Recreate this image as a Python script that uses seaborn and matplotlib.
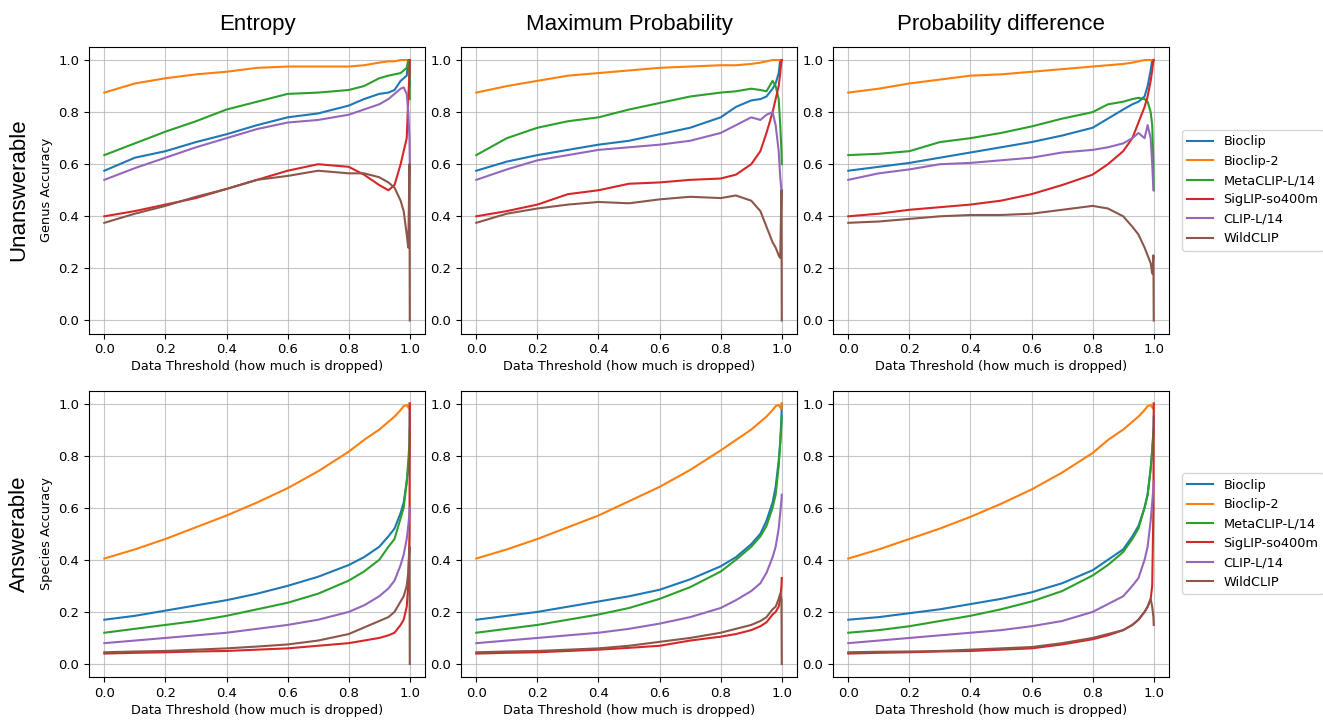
import numpy as np
import pandas as pd
import matplotlib
matplotlib.use('Agg')
import matplotlib.pyplot as plt
import seaborn as sns

# Values (approximate)
models = ['Bioclip', 'Bioclip-2', 'MetaCLIP-L/14', 'SigLIP-so400m', 'CLIP-L/14', 'WildCLIP']
metrics = ['Entropy', 'Maximum Probability', 'Probability difference']
rows = ['Unanswerable', 'Answerable']
ylabels = ['Genus Accuracy', 'Species Accuracy']

thresholds = [0.0, 0.1, 0.2, 0.3, 0.4, 0.5, 0.6, 0.7, 0.8, 0.85, 0.9, 0.93, 0.95,
              0.97, 0.98, 0.99, 0.995, 0.999, 1.0]

# Unanswerable -> Genus accuracy
unans_entropy = {
    'Bioclip':       [0.575, 0.625, 0.65, 0.685, 0.715, 0.75, 0.78, 0.795, 0.825, 0.85, 0.87, 0.875, 0.885, 0.92, 0.93, 0.94, 1.0, 1.0, 0.90],
    'Bioclip-2':     [0.875, 0.91, 0.93, 0.945, 0.955, 0.97, 0.975, 0.975, 0.975, 0.98, 0.99, 0.995, 0.995, 1.0, 1.0, 1.0, 1.0, 1.0, 1.0],
    'MetaCLIP-L/14': [0.635, 0.68, 0.725, 0.765, 0.81, 0.84, 0.87, 0.875, 0.885, 0.90, 0.93, 0.94, 0.945, 0.95, 0.96, 0.97, 1.0, 0.95, 0.85],
    'SigLIP-so400m': [0.40, 0.42, 0.445, 0.47, 0.505, 0.54, 0.575, 0.60, 0.59, 0.56, 0.52, 0.50, 0.52, 0.60, 0.65, 0.70, 0.85, 0.95, 1.0],
    'CLIP-L/14':     [0.54, 0.585, 0.625, 0.665, 0.70, 0.735, 0.76, 0.77, 0.79, 0.81, 0.83, 0.85, 0.87, 0.89, 0.895, 0.87, 0.80, 0.70, 0.60],
    'WildCLIP':      [0.375, 0.41, 0.44, 0.475, 0.505, 0.54, 0.555, 0.575, 0.565, 0.565, 0.55, 0.53, 0.51, 0.46, 0.42, 0.33, 0.28, 0.60, 0.0],
}
unans_maxprob = {
    'Bioclip':       [0.575, 0.61, 0.635, 0.655, 0.675, 0.69, 0.715, 0.74, 0.78, 0.82, 0.845, 0.85, 0.86, 0.89, 0.91, 0.95, 1.0, 1.0, 1.0],
    'Bioclip-2':     [0.875, 0.90, 0.92, 0.94, 0.95, 0.96, 0.97, 0.975, 0.98, 0.98, 0.985, 0.99, 0.995, 1.0, 1.0, 1.0, 1.0, 1.0, 1.0],
    'MetaCLIP-L/14': [0.635, 0.70, 0.74, 0.765, 0.78, 0.81, 0.835, 0.86, 0.875, 0.88, 0.89, 0.885, 0.88, 0.92, 0.90, 0.85, 0.75, 0.65, 0.60],
    'SigLIP-so400m': [0.40, 0.42, 0.445, 0.485, 0.50, 0.525, 0.53, 0.54, 0.545, 0.56, 0.60, 0.65, 0.72, 0.80, 0.85, 0.90, 0.95, 1.0, 1.0],
    'CLIP-L/14':     [0.54, 0.58, 0.615, 0.635, 0.655, 0.665, 0.675, 0.69, 0.72, 0.75, 0.78, 0.77, 0.79, 0.80, 0.75, 0.65, 0.55, 0.50, 0.50],
    'WildCLIP':      [0.375, 0.41, 0.43, 0.445, 0.455, 0.45, 0.465, 0.475, 0.47, 0.48, 0.46, 0.42, 0.36, 0.30, 0.28, 0.25, 0.24, 0.50, 0.0],
}
unans_probdiff = {
    'Bioclip':       [0.575, 0.59, 0.605, 0.625, 0.645, 0.665, 0.685, 0.71, 0.74, 0.775, 0.81, 0.83, 0.84, 0.86, 0.90, 0.96, 1.0, 1.0, 1.0],
    'Bioclip-2':     [0.875, 0.89, 0.91, 0.925, 0.94, 0.945, 0.955, 0.965, 0.975, 0.98, 0.985, 0.99, 0.995, 1.0, 1.0, 1.0, 1.0, 1.0, 1.0],
    'MetaCLIP-L/14': [0.635, 0.64, 0.65, 0.685, 0.70, 0.72, 0.745, 0.775, 0.80, 0.83, 0.84, 0.85, 0.855, 0.85, 0.84, 0.80, 0.75, 0.60, 0.50],
    'SigLIP-so400m': [0.40, 0.41, 0.425, 0.435, 0.445, 0.46, 0.485, 0.52, 0.56, 0.60, 0.65, 0.70, 0.76, 0.82, 0.86, 0.92, 0.96, 1.0, 1.0],
    'CLIP-L/14':     [0.54, 0.565, 0.58, 0.60, 0.605, 0.615, 0.625, 0.645, 0.655, 0.665, 0.68, 0.70, 0.72, 0.70, 0.75, 0.70, 0.60, 0.50, 0.50],
    'WildCLIP':      [0.375, 0.38, 0.39, 0.40, 0.405, 0.405, 0.41, 0.425, 0.44, 0.43, 0.40, 0.36, 0.33, 0.28, 0.25, 0.22, 0.18, 0.25, 0.0],
}

# Answerable -> Species accuracy
ans_entropy = {
    'Bioclip':       [0.17, 0.185, 0.205, 0.225, 0.245, 0.27, 0.30, 0.335, 0.38, 0.41, 0.45, 0.49, 0.52, 0.58, 0.62, 0.70, 0.75, 0.80, 1.0],
    'Bioclip-2':     [0.405, 0.44, 0.48, 0.525, 0.57, 0.62, 0.675, 0.74, 0.815, 0.86, 0.90, 0.93, 0.95, 0.975, 0.99, 0.995, 0.985, 0.98, 1.0],
    'MetaCLIP-L/14': [0.12, 0.135, 0.15, 0.165, 0.185, 0.21, 0.235, 0.27, 0.32, 0.355, 0.40, 0.45, 0.48, 0.56, 0.60, 0.70, 0.78, 0.85, 0.90],
    'SigLIP-so400m': [0.04, 0.043, 0.045, 0.048, 0.05, 0.055, 0.06, 0.07, 0.08, 0.09, 0.10, 0.11, 0.12, 0.15, 0.17, 0.22, 0.30, 0.50, 1.0],
    'CLIP-L/14':     [0.08, 0.09, 0.10, 0.11, 0.12, 0.135, 0.15, 0.17, 0.20, 0.225, 0.26, 0.29, 0.32, 0.38, 0.42, 0.48, 0.53, 0.58, 0.60],
    'WildCLIP':      [0.045, 0.048, 0.05, 0.055, 0.06, 0.067, 0.075, 0.09, 0.115, 0.14, 0.165, 0.18, 0.20, 0.24, 0.26, 0.30, 0.35, 0.45, 0.0],
}
ans_maxprob = {
    'Bioclip':       [0.17, 0.185, 0.20, 0.22, 0.24, 0.26, 0.285, 0.325, 0.375, 0.41, 0.46, 0.50, 0.55, 0.62, 0.68, 0.78, 0.85, 0.95, 1.0],
    'Bioclip-2':     [0.405, 0.44, 0.48, 0.525, 0.57, 0.625, 0.68, 0.745, 0.82, 0.86, 0.90, 0.93, 0.95, 0.975, 0.99, 0.995, 0.985, 0.98, 1.0],
    'MetaCLIP-L/14': [0.12, 0.135, 0.15, 0.17, 0.19, 0.215, 0.25, 0.295, 0.355, 0.40, 0.45, 0.49, 0.53, 0.60, 0.65, 0.76, 0.85, 0.92, 0.95],
    'SigLIP-so400m': [0.04, 0.043, 0.045, 0.05, 0.055, 0.062, 0.07, 0.09, 0.105, 0.115, 0.13, 0.145, 0.16, 0.19, 0.20, 0.22, 0.25, 0.30, 0.33],
    'CLIP-L/14':     [0.08, 0.09, 0.10, 0.11, 0.12, 0.135, 0.155, 0.18, 0.215, 0.245, 0.28, 0.31, 0.35, 0.41, 0.45, 0.52, 0.58, 0.63, 0.65],
    'WildCLIP':      [0.045, 0.048, 0.05, 0.055, 0.06, 0.07, 0.085, 0.10, 0.12, 0.135, 0.15, 0.165, 0.18, 0.21, 0.22, 0.25, 0.27, 0.25, 0.0],
}
ans_probdiff = {
    'Bioclip':       [0.17, 0.18, 0.195, 0.21, 0.23, 0.25, 0.275, 0.31, 0.36, 0.40, 0.44, 0.49, 0.53, 0.60, 0.65, 0.75, 0.82, 0.90, 0.95],
    'Bioclip-2':     [0.405, 0.44, 0.48, 0.52, 0.565, 0.615, 0.67, 0.735, 0.81, 0.86, 0.90, 0.93, 0.95, 0.975, 0.99, 0.995, 0.985, 0.98, 1.0],
    'MetaCLIP-L/14': [0.12, 0.13, 0.145, 0.165, 0.185, 0.21, 0.24, 0.28, 0.34, 0.38, 0.43, 0.48, 0.52, 0.60, 0.65, 0.75, 0.82, 0.88, 0.90],
    'SigLIP-so400m': [0.04, 0.043, 0.045, 0.048, 0.05, 0.055, 0.06, 0.075, 0.095, 0.11, 0.13, 0.15, 0.17, 0.20, 0.22, 0.25, 0.30, 0.60, 1.0],
    'CLIP-L/14':     [0.08, 0.09, 0.10, 0.11, 0.12, 0.13, 0.145, 0.165, 0.20, 0.23, 0.26, 0.30, 0.33, 0.40, 0.45, 0.55, 0.62, 0.68, 0.70],
    'WildCLIP':      [0.045, 0.047, 0.048, 0.05, 0.055, 0.06, 0.065, 0.08, 0.10, 0.115, 0.13, 0.15, 0.17, 0.20, 0.22, 0.25, 0.22, 0.18, 0.15],
}

panels = [[unans_entropy, unans_maxprob, unans_probdiff],
          [ans_entropy, ans_maxprob, ans_probdiff]]

colors = sns.color_palette('tab10', 6)
big_font = ['Liberation Sans', 'DejaVu Sans']

fig, axes = plt.subplots(2, 3, figsize=(13.23, 7.21), dpi=100)
fig.subplots_adjust(left=0.0673, right=0.8836, top=0.9348, bottom=0.061,
                    wspace=0.107, hspace=0.199)

for r in range(2):
    for c in range(3):
        ax = axes[r, c]
        recs = []
        for m in models:
            for t, v in zip(thresholds, panels[r][c][m]):
                recs.append({'threshold': t, 'acc': v, 'model': m})
        df = pd.DataFrame(recs)
        sns.lineplot(data=df, x='threshold', y='acc', hue='model',
                     hue_order=models, palette=colors, estimator=None,
                     sort=False, linewidth=1.5, ax=ax)
        ax.grid(True, color='#b0b0b0', linewidth=0.8, alpha=0.7)
        ax.set_xlim(-0.05, 1.05)
        ax.set_ylim(-0.05, 1.05)
        ax.set_xticks([0.0, 0.2, 0.4, 0.6, 0.8, 1.0])
        ax.set_yticks([0.0, 0.2, 0.4, 0.6, 0.8, 1.0])
        ax.set_xlabel('Data Threshold (how much is dropped)', fontsize=9.3, labelpad=3)
        ax.set_ylabel(ylabels[r] if c == 0 else '', fontsize=9.3)
        ax.tick_params(labelsize=9.5)
        if r == 0:
            ax.set_title(metrics[c], fontsize=16, pad=12, family=big_font)
        if c == 2:
            ax.legend(loc='center left', bbox_to_anchor=(1.02, 0.5),
                      fontsize=9.3, title=None)
        else:
            ax.get_legend().remove()

fig.text(0.0145, 0.737, rows[0], rotation=90, ha='center', va='center',
         fontsize=16, family=big_font)
fig.text(0.0145, 0.26, rows[1], rotation=90, ha='center', va='center',
         fontsize=16, family=big_font)

fig.savefig('out.png', dpi=100)
